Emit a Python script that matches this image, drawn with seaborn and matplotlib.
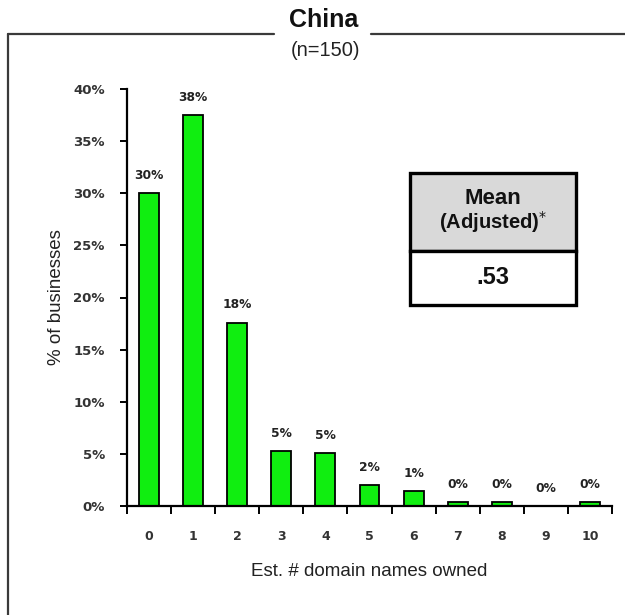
import matplotlib
matplotlib.use("Agg")
import matplotlib.pyplot as plt
from matplotlib.lines import Line2D
from matplotlib.patches import Rectangle
from matplotlib.ticker import FixedLocator, FuncFormatter
import seaborn as sns
import pandas as pd

# Distribution of estimated domain names owned (China, n=150)
domain_counts = ["0", "1", "2", "3", "4", "5", "6", "7", "8", "9", "10"]
pct_businesses = [30.0, 37.5, 17.6, 5.3, 5.1, 2.0, 1.4, 0.4, 0.4, 0.0, 0.4]
y_ticks = [0, 5, 10, 15, 20, 25, 30, 35, 40]
mean_adjusted = ".53"

sns.set_theme(style="white")
plt.rcParams["font.family"] = ["Liberation Sans", "DejaVu Sans"]

W, H = 625, 615
fig = plt.figure(figsize=(W / 100, H / 100), dpi=100)
fig.patch.set_facecolor("white")

def fx(px):
    return px / W

def fy(py):
    return 1 - py / H

ax = fig.add_axes([fx(127), fy(506), fx(612) - fx(127), fy(89) - fy(506)])

df = pd.DataFrame({"count": domain_counts, "pct": pct_businesses})
sns.barplot(data=df, x="count", y="pct", order=domain_counts, color="#10ee10",
            saturation=1, width=0.45, edgecolor="black", linewidth=1.3, ax=ax)

ax.set_xlim(-0.5, len(domain_counts) - 0.5)
ax.set_ylim(0, 40)

# value labels
for i, v in enumerate(pct_businesses):
    ax.annotate(f"{v:.0f}%", (i, v), xytext=(0, 8), textcoords="offset points",
                ha="center", va="bottom", fontsize=8.8, fontweight="bold",
                family="DejaVu Sans", color="#222222")

# axes styling
for side in ["top", "right"]:
    ax.spines[side].set_visible(False)
for side in ["left", "bottom"]:
    ax.spines[side].set_color("black")
    ax.spines[side].set_linewidth(1.6)

ax.set_yticks(y_ticks)
ax.yaxis.set_major_formatter(FuncFormatter(lambda v, p: f"{v:.0f}%"))
ax.tick_params(axis="y", direction="out", length=5, width=1.4, color="black",
               pad=11, labelsize=9.5, labelcolor="#333333", left=True)
for lab in ax.get_yticklabels():
    lab.set_fontweight("bold")
    lab.set_family("DejaVu Sans")

ax.set_xticks(range(len(domain_counts)))
ax.set_xticklabels(domain_counts)
ax.xaxis.set_minor_locator(FixedLocator([i - 0.5 for i in range(len(domain_counts) + 1)]))
ax.tick_params(axis="x", which="major", length=0, pad=17, labelsize=9,
               labelcolor="#333333")
ax.tick_params(axis="x", which="minor", direction="out", length=6, width=1.4,
               color="black", bottom=True)
for lab in ax.get_xticklabels():
    lab.set_fontweight("bold")
    lab.set_family("DejaVu Sans")

ax.set_xlabel("Est. # domain names owned", fontsize=13.5, color="#222222", labelpad=15)
ax.set_ylabel("% of businesses", fontsize=13.5, color="#222222", labelpad=6)
ax.grid(False)

# surrounding frame with a break for the title
frame_kw = dict(color="#3a3a3a", linewidth=1.6, transform=fig.transFigure)
fig.add_artist(Line2D([fx(8), fx(274)], [fy(34), fy(34)], **frame_kw))
fig.add_artist(Line2D([fx(371), 1.0], [fy(34), fy(34)], **frame_kw))
fig.add_artist(Line2D([fx(8), fx(8)], [fy(34), 0.0], **frame_kw))

fig.text(fx(324), fy(20), "China", ha="center", va="center", fontsize=18,
         fontweight="bold", color="#111111")
fig.text(fx(325), fy(51), "(n=150)", ha="center", va="center", fontsize=14.5,
         color="#222222")

# mean summary box
box_l, box_r, box_t, box_m, box_b = 410, 576, 173, 251, 305
fig.add_artist(Rectangle((fx(box_l), fy(box_m)), fx(box_r) - fx(box_l), fy(box_t) - fy(box_m),
                         transform=fig.transFigure, facecolor="#d9d9d9",
                         edgecolor="black", linewidth=2.4))
fig.add_artist(Rectangle((fx(box_l), fy(box_b)), fx(box_r) - fx(box_l), fy(box_m) - fy(box_b),
                         transform=fig.transFigure, facecolor="white",
                         edgecolor="black", linewidth=2.4))
cx = fx((box_l + box_r) / 2)
fig.text(cx, fy(198), "Mean", ha="center", va="center", fontsize=16,
         fontweight="bold", color="#111111")
fig.text(cx, fy(222), "(Adjusted)$^{*}$", ha="center", va="center", fontsize=14.5,
         fontweight="bold", color="#111111")
fig.text(cx, fy(277), mean_adjusted, ha="center", va="center", fontsize=17,
         fontweight="bold", color="#111111")

fig.savefig("out.png", dpi=100, facecolor="white")
